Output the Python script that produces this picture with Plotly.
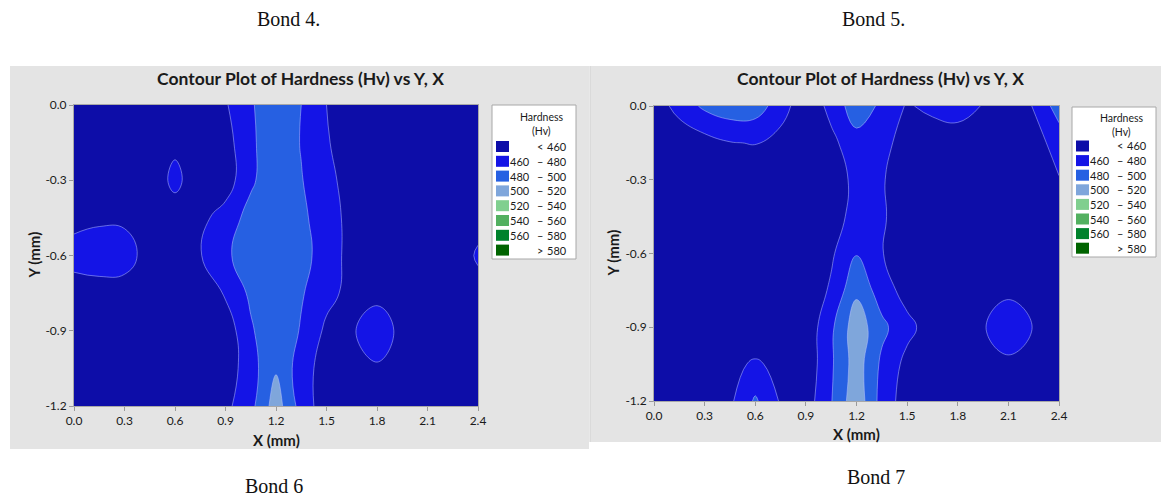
import plotly.graph_objects as go

# ---------------- data ----------------
x_mm = [0.0, 0.15, 0.3, 0.45, 0.6, 0.75, 0.9, 1.05, 1.2, 1.35, 1.5, 1.65, 1.8, 1.95, 2.1, 2.25, 2.4]
y_mm = [0.0, -0.15, -0.3, -0.45, -0.6, -0.75, -0.9, -1.05, -1.2]

# Bond 6 hardness (Hv), rows = y_mm, columns = x_mm
hv_bond6 = [
    [445, 444, 446, 447, 448, 445, 458, 478, 492, 480, 460, 448, 444, 443, 445, 447, 452],
    [446, 445, 447, 448, 455, 445, 452, 476, 494, 479, 462, 448, 445, 444, 446, 447, 450],
    [448, 447, 446, 445, 466, 445, 450, 476, 496, 481, 467, 450, 446, 445, 446, 447, 449],
    [454, 457, 456, 448, 448, 455, 468, 488, 498, 484, 470, 453, 447, 446, 447, 449, 452],
    [468, 470, 470, 450, 450, 459, 476, 492, 499, 486, 472, 452, 447, 446, 447, 445, 463],
    [450, 452, 450, 447, 446, 448, 462, 484, 498, 482, 466, 454, 455, 454, 447, 446, 452],
    [446, 445, 446, 447, 446, 446, 448, 477, 498, 478, 456, 458, 470, 455, 447, 445, 447],
    [445, 446, 445, 446, 447, 446, 448, 472, 498, 470, 450, 455, 458, 455, 446, 445, 446],
    [444, 445, 446, 445, 446, 447, 455, 474, 510, 472, 448, 446, 447, 446, 445, 444, 445],
]

# Bond 7 hardness (Hv)
hv_bond7 = [
    [448, 468, 484, 492, 490, 470, 445, 466, 492, 476, 458, 465, 468, 459, 448, 461, 490],
    [444, 445, 452, 459, 461, 452, 443, 455, 472, 466, 452, 448, 450, 446, 444, 452, 468],
    [443, 444, 445, 446, 447, 445, 442, 448, 466, 462, 447, 444, 443, 444, 445, 446, 459],
    [444, 443, 444, 445, 446, 444, 443, 450, 468, 463, 447, 445, 444, 443, 444, 445, 449],
    [445, 444, 443, 444, 445, 444, 444, 457, 479, 461, 446, 444, 445, 444, 446, 447, 446],
    [444, 445, 444, 443, 444, 443, 445, 463, 496, 470, 452, 446, 445, 454, 455, 454, 445],
    [443, 444, 445, 446, 448, 446, 446, 476, 512, 485, 466, 450, 449, 458, 475, 459, 446],
    [444, 445, 446, 456, 462, 456, 446, 477, 510, 476, 454, 446, 447, 454, 455, 454, 445],
    [445, 446, 447, 456, 483, 458, 450, 479, 514, 472, 450, 445, 446, 445, 446, 445, 444],
]

levels = [460, 480, 500, 520, 540, 560, 580]
band_colors = ["#0d0da8", "#1414e6", "#2660e2", "#7fa6db", "#80cf8f", "#52b060", "#00822c", "#006400"]

x_tick_vals = [0.0, 0.3, 0.6, 0.9, 1.2, 1.5, 1.8, 2.1, 2.4]
x_tick_text = ["0.0", "0.3", "0.6", "0.9", "1.2", "1.5", "1.8", "2.1", "2.4"]
y_tick_vals = [0.0, -0.3, -0.6, -0.9, -1.2]
y_tick_text = ["0.0", "-0.3", "-0.6", "-0.9", "-1.2"]

chart_title = "Contour Plot of Hardness (Hv) vs Y, X"
captions_top = ["Bond 4.", "Bond 5."]
captions_bottom = ["Bond 6", "Bond 7"]

# ---------------- layout helpers ----------------
W, H = 1161, 497
def px(x):
    return x / W
def py(y):
    return 1 - y / H

FONT = "Lato, 'Open Sans', sans-serif"
panels = [
    dict(gx0=10, gx1=589, gy0=66, gy1=449, px0=74, px1=478, py0=105, py1=406,
         title_x=300, title_y=78, ytitle_x=33, xtitle_y=440,
         lg_x0=492, lg_x1=576, lg_y0=105, lg_y1=259, lg_row0=146.5, lg_step=14.8, lg_t1=117, lg_t2=131,
         cap_top=(288, 19), cap_bot=(274, 486)),
    dict(gx0=590, gx1=1161, gy0=66, gy1=442, px0=654, px1=1059, py0=106, py1=401,
         title_x=880, title_y=78, ytitle_x=613, xtitle_y=434,
         lg_x0=1072, lg_x1=1156, lg_y0=107, lg_y1=257, lg_row0=146, lg_step=14.6, lg_t1=118, lg_t2=132,
         cap_top=(873, 19), cap_bot=(876, 477)),
]

colorscale = [[i / (len(band_colors) - 1), c] for i, c in enumerate(band_colors)]

fig = go.Figure()
for k, z in enumerate([hv_bond6, hv_bond7]):
    suffix = "" if k == 0 else "2"
    fig.add_trace(go.Contour(
        x=x_mm, y=y_mm, z=z,
        xaxis="x" + suffix, yaxis="y" + suffix,
        autocontour=False,
        contours=dict(start=levels[0], end=levels[-1], size=levels[1] - levels[0],
                      coloring="fill", showlines=True),
        colorscale=colorscale,
        showscale=False,
        line=dict(color="rgba(185,195,255,0.85)", width=0.6, smoothing=1.3),
        hovertemplate="X=%{x}<br>Y=%{y}<br>Hv=%{z}<extra></extra>",
    ))

shapes = []
annotations = []
axis_common = dict(
    showgrid=True, gridcolor="rgba(150,160,235,0.35)", gridwidth=1,
    layer="above traces", ticks="outside", ticklen=4, tickcolor="#9a9a9a",
    showline=True, linecolor="#a8a8a8", linewidth=1, mirror=True,
    zeroline=False, automargin=False, fixedrange=True,
    tickfont=dict(family=FONT, size=12, color="#1a1a1a"),
)
layout_axes = {}
for k, p in enumerate(panels):
    suffix = "" if k == 0 else "2"
    layout_axes["xaxis" + suffix] = dict(
        axis_common, domain=[px(p["px0"]), px(p["px1"])], range=[0, 2.4],
        tickvals=x_tick_vals, ticktext=x_tick_text, anchor="y" + suffix)
    layout_axes["yaxis" + suffix] = dict(
        axis_common, domain=[py(p["py1"]), py(p["py0"])], range=[-1.2, 0],
        tickvals=y_tick_vals, ticktext=y_tick_text, anchor="x" + suffix)

    # gray panel background
    shapes.append(dict(type="rect", xref="paper", yref="paper", layer="below",
                       x0=px(p["gx0"]), x1=px(p["gx1"]), y0=py(p["gy1"]), y1=py(p["gy0"]),
                       fillcolor="#e4e4e4", line=dict(width=0)))
    # title
    annotations.append(dict(text="<b>" + chart_title + "</b>", x=px(p["title_x"]), y=py(p["title_y"]),
                            xref="paper", yref="paper", showarrow=False, xanchor="center", yanchor="middle",
                            font=dict(family=FONT, size=17.5, color="#1a1a1a")))
    # axis titles
    annotations.append(dict(text="<b>Y (mm)</b>", x=px(p["ytitle_x"]), y=py((p["py0"] + p["py1"]) / 2),
                            xref="paper", yref="paper", showarrow=False, textangle=-90,
                            xanchor="center", yanchor="middle",
                            font=dict(family=FONT, size=15, color="#1a1a1a")))
    annotations.append(dict(text="<b>X (mm)</b>", x=px((p["px0"] + p["px1"]) / 2), y=py(p["xtitle_y"]),
                            xref="paper", yref="paper", showarrow=False,
                            xanchor="center", yanchor="middle",
                            font=dict(family=FONT, size=15, color="#1a1a1a")))
    # legend box
    shapes.append(dict(type="rect", xref="paper", yref="paper", layer="above",
                       x0=px(p["lg_x0"]), x1=px(p["lg_x1"]), y0=py(p["lg_y1"]), y1=py(p["lg_y0"]),
                       fillcolor="white", line=dict(color="#a8a8a8", width=1)))
    lg_cx = p["lg_x0"] + 49.5
    annotations.append(dict(text="Hardness", x=px(lg_cx), y=py(p["lg_t1"]), xref="paper", yref="paper",
                            showarrow=False, xanchor="center", yanchor="middle",
                            font=dict(family=FONT, size=10.5, color="#1a1a1a")))
    annotations.append(dict(text="(Hv)", x=px(lg_cx), y=py(p["lg_t2"]), xref="paper", yref="paper",
                            showarrow=False, xanchor="center", yanchor="middle",
                            font=dict(family=FONT, size=10.5, color="#1a1a1a")))
    n = len(band_colors)
    for i, c in enumerate(band_colors):
        yc = p["lg_row0"] + i * p["lg_step"]
        shapes.append(dict(type="rect", xref="paper", yref="paper", layer="above",
                           x0=px(p["lg_x0"] + 4), x1=px(p["lg_x0"] + 17),
                           y0=py(yc + 5.5), y1=py(yc - 5.5), fillcolor=c, line=dict(width=0)))
        if i == 0:
            low, sym, high = "", "<", str(levels[0])
        elif i == n - 1:
            low, sym, high = "", ">", str(levels[-1])
        else:
            low, sym, high = str(levels[i - 1]), "\u2013", str(levels[i])
        lf = dict(family=FONT, size=11, color="#1a1a1a")
        if low:
            annotations.append(dict(text=low, x=px(p["lg_x0"] + 39.5), y=py(yc), xref="paper", yref="paper",
                                    showarrow=False, xanchor="right", yanchor="middle", font=lf))
        annotations.append(dict(text=sym, x=px(p["lg_x0"] + 47.5), y=py(yc), xref="paper", yref="paper",
                                showarrow=False, xanchor="center", yanchor="middle", font=lf))
        annotations.append(dict(text=high, x=px(p["lg_x0"] + 76.5), y=py(yc), xref="paper", yref="paper",
                                showarrow=False, xanchor="right", yanchor="middle", font=lf))
    # captions
    for cap, pos in [(captions_top[k], p["cap_top"]), (captions_bottom[k], p["cap_bot"])]:
        annotations.append(dict(text=cap, x=px(pos[0]), y=py(pos[1]), xref="paper", yref="paper",
                                showarrow=False, xanchor="center", yanchor="middle",
                                font=dict(family="'Liberation Serif', 'DejaVu Serif', serif", size=20,
                                          color="#111111")))

# thin divider between the two panels
shapes.append(dict(type="line", xref="paper", yref="paper", layer="below",
                   x0=px(590), x1=px(590), y0=py(442), y1=py(66), line=dict(color="#d0d0d0", width=1)))

fig.update_layout(
    width=W, height=H,
    margin=dict(l=0, r=0, t=0, b=0),
    paper_bgcolor="white", plot_bgcolor="rgba(0,0,0,0)",
    showlegend=False,
    shapes=shapes, annotations=annotations,
    **layout_axes,
)

fig.write_html("out.html",
               config={"displayModeBar": False},
               post_script="document.body.style.margin='0px';document.body.style.overflow='hidden';")
